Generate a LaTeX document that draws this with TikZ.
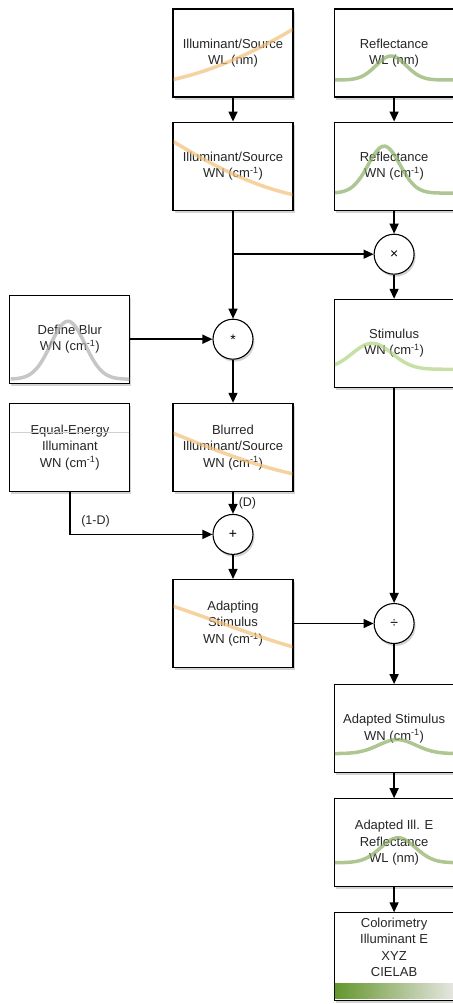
\documentclass[tikz,border=0pt]{standalone}
\usepackage{fontspec}
\setmainfont{Liberation Sans}
\usetikzlibrary{arrows.meta, positioning, shadows}

\definecolor{illcol}{RGB}{244,192,122}
\definecolor{refcol}{RGB}{140,175,100}
\definecolor{stimcol}{RGB}{176,212,128}
\definecolor{blurcol}{RGB}{175,175,175}
\definecolor{bardark}{RGB}{100,150,45}
\definecolor{barlight}{RGB}{230,230,225}

\begin{document}
\begin{tikzpicture}[x=1bp, y=1bp, node distance=24bp and 40bp,
  box/.style={draw, line width=1.1bp, fill=white, text=black!85, minimum width=120bp, minimum height=88bp, inner sep=2bp, align=center, font=\fontsize{13bp}{16.5bp}\selectfont, drop shadow={shadow xshift=1.5bp, shadow yshift=-2.5bp, opacity=0.35}},
  op/.style={circle, draw, line width=1.1bp, fill=white, minimum size=40bp, inner sep=0pt, font=\fontsize{14bp}{14bp}\selectfont, drop shadow={shadow xshift=1.5bp, shadow yshift=-2.5bp, opacity=0.35}},
  curve/.style={line width=3.5bp, line cap=round, opacity=0.7},
  lbl/.style={font=\fontsize{12.5bp}{14bp}\selectfont, text=black!85, inner sep=2bp},
  >={Triangle[length=10bp, width=9bp]}, line width=1.5bp]
\useasboundingbox (0,0) rectangle (453,-1004);

% inputs
\node[box] (illw) at (233,-53) {Illuminant/Source\\WL (nm)};
\node[box, right=of illw] (reflw) {Reflectance\\WL (nm)};
\node[box, below=of illw] (illn) {Illuminant/Source\\WN (cm\textsuperscript{-1})};
\node[box, below=of reflw] (refln) {Reflectance\\WN (cm\textsuperscript{-1})};

% operators and stimulus
\node[op, below=23bp of refln] (times) {×};
\coordinate (split) at (illn |- times);
\node[box, below=24bp of times] (stim) {Stimulus\\WN (cm\textsuperscript{-1})};
\node[op, below=108bp of illn] (conv) {*};
\node[box, left=82bp of conv] (blur) {Define Blur\\WN (cm\textsuperscript{-1})};
\node[box, below=43bp of conv] (bil) {Blurred\\Illuminant/Source\\WN (cm\textsuperscript{-1})};
\node[box, left=42bp of bil] (eqe) {Equal-Energy\\Illuminant\\WN (cm\textsuperscript{-1})};
\node[op, below=22bp of bil] (plus) {+};
\node[box, below=of plus] (adapt) {Adapting\\Stimulus\\WN (cm\textsuperscript{-1})};
\node[op] (div) at (stim |- adapt) {÷};

% outputs
\node[box, below=40bp of div] (adst) {Adapted Stimulus\\WN (cm\textsuperscript{-1})};
\node[box, below=25bp of adst] (adie) {Adapted Ill. E\\Reflectance\\WL (nm)};
\node[box, below=25bp of adie] (colo) {\raisebox{0pt}[\height][\dimexpr\depth+16bp\relax]{\begin{tabular}{@{}c@{}}Colorimetry\\Illuminant E\\XYZ\\CIELAB\end{tabular}}};

% spectra inside the boxes
\begin{scope}
  \clip ([shift={(1.2bp,1.2bp)}]illw.south west) rectangle ([shift={(-1.2bp,-1.2bp)}]illw.north east);
  \draw[curve, illcol, shift={(illw.center)}] (-62,-27) .. controls (-20,-18) and (20,0) .. (62,25);
\end{scope}
\begin{scope}
  \clip ([shift={(1.2bp,1.2bp)}]reflw.south west) rectangle ([shift={(-1.2bp,-1.2bp)}]reflw.north east);
  \draw[curve, refcol, shift={(reflw.center)}] plot[domain=-62:62, samples=50, smooth] (\x, {-27+24*exp(-(\x+3)*(\x+3)/450)});
\end{scope}
\begin{scope}
  \clip ([shift={(1.2bp,1.2bp)}]illn.south west) rectangle ([shift={(-1.2bp,-1.2bp)}]illn.north east);
  \draw[curve, illcol, shift={(illn.center)}] (-62,26) .. controls (-20,0) and (20,-20) .. (62,-29);
\end{scope}
\begin{scope}
  \clip ([shift={(1.2bp,1.2bp)}]refln.south west) rectangle ([shift={(-1.2bp,-1.2bp)}]refln.north east);
  \draw[curve, refcol, shift={(refln.center)}] plot[domain=-62:62, samples=50, smooth] (\x, {-27+47*exp(-(\x+10)*(\x+10)/500)});
\end{scope}
\begin{scope}
  \clip ([shift={(1.2bp,1.2bp)}]stim.south west) rectangle ([shift={(-1.2bp,-1.2bp)}]stim.north east);
  \draw[curve, stimcol, shift={(stim.center)}] plot[domain=-62:62, samples=50, smooth] (\x, {-26+26*exp(-(\x+22)*(\x+22)/800)});
\end{scope}
\begin{scope}
  \clip ([shift={(1.2bp,1.2bp)}]blur.south west) rectangle ([shift={(-1.2bp,-1.2bp)}]blur.north east);
  \draw[curve, blurcol, shift={(blur.center)}] plot[domain=-62:62, samples=60, smooth] (\x, {-40+58*exp(-(\x+2)*(\x+2)/580)});
\end{scope}
\begin{scope}
  \clip ([shift={(1.2bp,1.2bp)}]bil.south west) rectangle ([shift={(-1.2bp,-1.2bp)}]bil.north east);
  \draw[curve, illcol, shift={(bil.center)}] (-62,15) .. controls (-20,-2) and (20,-18) .. (62,-27);
\end{scope}
\draw[line width=1bp, black!18, shift={(eqe.center)}] (-58.8,15) -- (58.8,15);
\begin{scope}
  \clip ([shift={(1.2bp,1.2bp)}]adapt.south west) rectangle ([shift={(-1.2bp,-1.2bp)}]adapt.north east);
  \draw[curve, illcol, shift={(adapt.center)}] (-62,18) .. controls (-20,4) and (20,-12) .. (62,-24);
\end{scope}
\begin{scope}
  \clip ([shift={(1.2bp,1.2bp)}]adst.south west) rectangle ([shift={(-1.2bp,-1.2bp)}]adst.north east);
  \draw[curve, refcol, shift={(adst.center)}] plot[domain=-62:62, samples=50, smooth] (\x, {-25+14*exp(-(\x-3)*(\x-3)/700)});
\end{scope}
\begin{scope}
  \clip ([shift={(1.2bp,1.2bp)}]adie.south west) rectangle ([shift={(-1.2bp,-1.2bp)}]adie.north east);
  \draw[curve, refcol, shift={(adie.center)}] plot[domain=-62:62, samples=50, smooth] (\x, {-20+25*exp(-(\x-4)*(\x-4)/600)});
\end{scope}
\shade[left color=bardark, right color=barlight] ([shift={(1.2bp,3bp)}]colo.south west) rectangle ([shift={(-1.2bp,17.5bp)}]colo.south east);

% connectors
\draw[->] (illw) -- (illn);
\draw[->] (reflw) -- (refln);
\draw[->] (refln) -- (times);
\draw[->] (illn) -- (conv);
\draw[->] (split) -- (times);
\draw[->] (times) -- (stim);
\draw[->] (blur) -- (conv);
\draw[->] (conv) -- (bil);
\draw[->] (bil) -- node[lbl, right, xshift=3bp] {(D)} (plus);
\draw[->] (eqe) |- node[lbl, above, pos=0.59, yshift=5bp] {(1-D)} (plus);
\draw[->] (plus) -- (adapt);
\draw[->] (adapt) -- (div);
\draw[->] (stim) -- (div);
\draw[->] (div) -- (adst);
\draw[->] (adst) -- (adie);
\draw[->] (adie) -- (colo);
\end{tikzpicture}
\end{document}
